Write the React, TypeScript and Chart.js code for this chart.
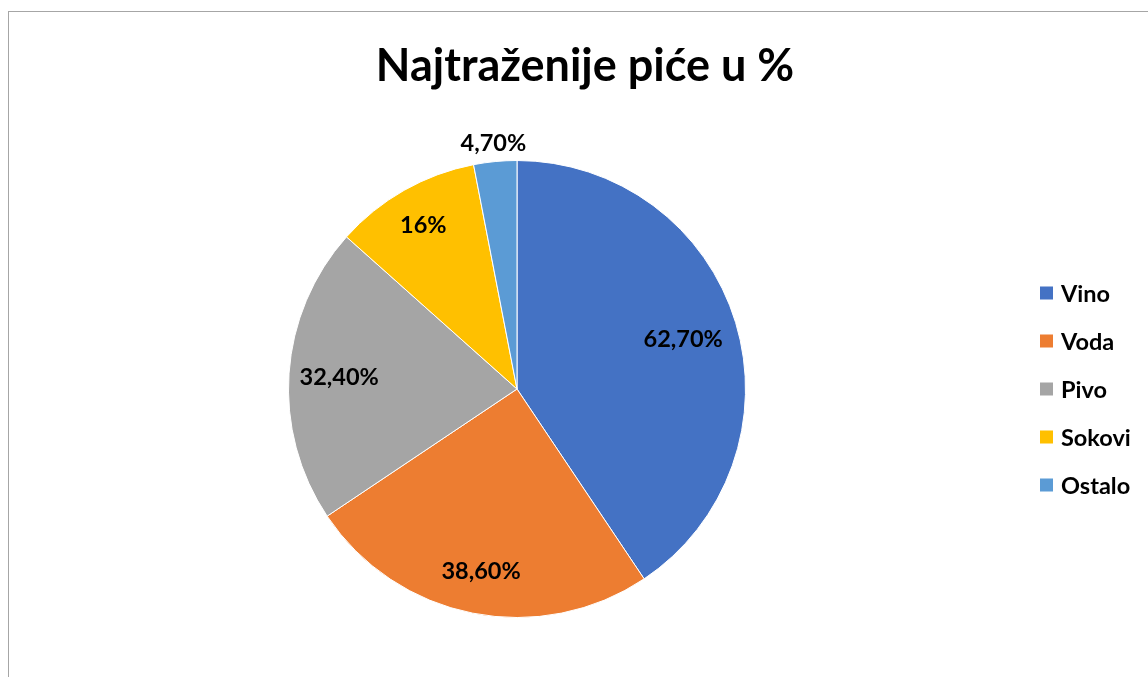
import React, { useEffect, useRef } from "react";
import { Chart, registerables } from "chart.js";

Chart.register(...registerables);

const TITLE = "Najtraženije piće u %";
const categories = ["Vino", "Voda", "Pivo", "Sokovi", "Ostalo"];
const values = [62.7, 38.6, 32.4, 16, 4.7];
const valueLabels = ["62,70%", "38,60%", "32,40%", "16%", "4,70%"];
const colors = ["#4472C4", "#ED7D31", "#A5A5A5", "#FFC000", "#5B9BD5"];

const FONT = "Lato, 'Open Sans', sans-serif";
// label distance from centre, as fraction of radius (negative => outside offset in px)
const LABEL_POS = [0.76, 0.81, 0.78, 0.83, -19];

const overlayPlugin = {
  id: "overlay",
  afterDraw(chart: any) {
    const ctx = chart.ctx;
    const meta = chart.getDatasetMeta(0);
    ctx.save();
    // title
    ctx.fillStyle = "#000";
    ctx.font = `bold 45px ${FONT}`;
    ctx.textAlign = "center";
    ctx.textBaseline = "alphabetic";
    ctx.fillText(TITLE, 576, 69);

    // data labels
    ctx.font = `bold 23.5px ${FONT}`;
    ctx.textBaseline = "middle";
    meta.data.forEach((arc: any, i: number) => {
      const { x, y, startAngle, endAngle, outerRadius } = arc.getProps(
        ["x", "y", "startAngle", "endAngle", "outerRadius"],
        true
      );
      const mid = (startAngle + endAngle) / 2;
      const p = LABEL_POS[i];
      const r = p < 0 ? outerRadius - p : outerRadius * p;
      ctx.fillText(valueLabels[i], x + Math.cos(mid) * r, y + Math.sin(mid) * r + 1);
    });

    // legend
    const cy = meta.data[0].y;
    ctx.textAlign = "left";
    ctx.font = `bold 23.5px ${FONT}`;
    categories.forEach((c, i) => {
      const yy = cy + (i - 2) * 48;
      ctx.fillStyle = colors[i];
      ctx.fillRect(1031, yy - 6.5, 13, 13);
      ctx.fillStyle = "#000";
      ctx.fillText(c, 1052, yy + 1);
    });
    ctx.restore();
  },
};

export default function App() {
  const ref = useRef<HTMLCanvasElement>(null);
  useEffect(() => {
    if (!ref.current) return;
    const chart = new Chart(ref.current, {
      type: "pie",
      data: {
        labels: categories,
        datasets: [
          {
            data: values,
            backgroundColor: colors,
            borderColor: "#ffffff",
            borderWidth: 1,
          },
        ],
      },
      options: {
        animation: false,
        responsive: false,
        devicePixelRatio: 1,
        layout: { padding: { top: 148, bottom: 59, left: 279, right: 402 } },
        plugins: {
          legend: { display: false },
          title: { display: false },
          tooltip: { enabled: false },
        },
      },
      plugins: [overlayPlugin],
    });
    return () => chart.destroy();
  }, []);
  return (
    <div
      style={{
        position: "absolute",
        left: 8,
        top: 11,
        width: 1139,
        height: 665,
        borderTop: "1px solid #a6a6a6",
        borderLeft: "1px solid #a6a6a6",
        background: "#fff",
      }}
    >
      <canvas ref={ref} width={1139} height={665} style={{ display: "block" }} />
    </div>
  );
}
